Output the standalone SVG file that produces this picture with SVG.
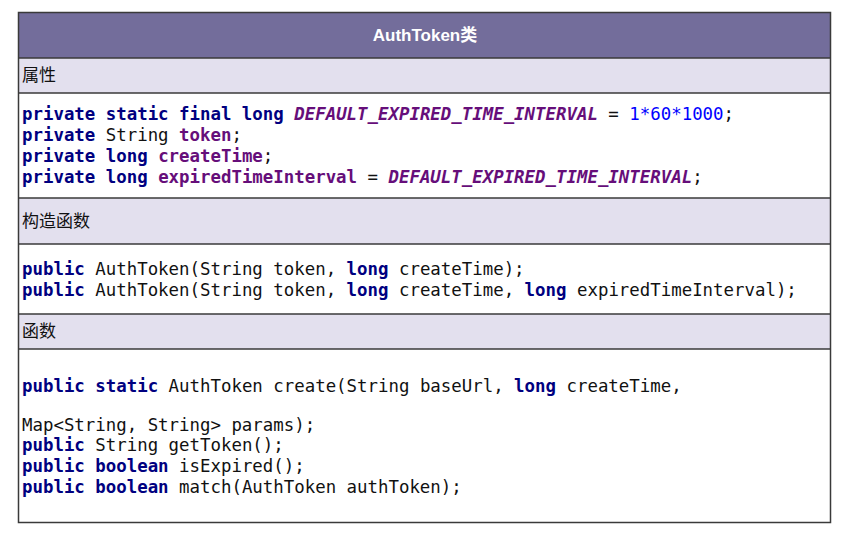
<svg xmlns="http://www.w3.org/2000/svg" width="849" height="538" viewBox="0 0 849 538">
<style>
.sec{fill:#e3e0ee;}
.line{stroke:#3a3a3a;stroke-width:1.5;fill:none;}
.hdr{font-family:"Liberation Sans","Noto Sans CJK SC",sans-serif;font-size:17px;font-weight:bold;fill:#ffffff;}
.lbl{font-family:"DejaVu Sans","Noto Sans CJK SC",sans-serif;font-size:17px;fill:#111;}
.code{font-family:"DejaVu Sans Mono",monospace;fill:#111;white-space:pre;}
.c1{font-size:17.4px;}
.c2{font-size:17.4px;}
.kw{fill:#000080;font-weight:bold;}
.fld{fill:#660e7a;font-weight:bold;}
.cst{fill:#660e7a;font-weight:bold;font-style:italic;}
.num{fill:#0000ff;}
</style>
<rect x="0" y="0" width="849" height="538" fill="#ffffff"/>
<g id="authtoken-class">
  <rect x="18.5" y="12.5" width="812" height="46" fill="#736d9b"/>
  <text class="hdr" x="425" y="41" text-anchor="middle">AuthToken类</text>
  <rect class="sec" x="18.5" y="58" width="812" height="35"/>
  <text class="lbl" x="22" y="81">属性</text>
  <rect x="18.5" y="93" width="812" height="105" fill="#ffffff"/>
  <text class="code c1" x="22" y="120"><tspan class="kw">private static final long</tspan> <tspan class="cst">DEFAULT_EXPIRED_TIME_INTERVAL</tspan> = <tspan class="num">1*60*1000</tspan>;</text>
  <text class="code c1" x="22" y="141"><tspan class="kw">private</tspan> String <tspan class="fld">token</tspan>;</text>
  <text class="code c1" x="22" y="162"><tspan class="kw">private long</tspan> <tspan class="fld">createTime</tspan>;</text>
  <text class="code c1" x="22" y="183"><tspan class="kw">private long</tspan> <tspan class="fld">expiredTimeInterval</tspan> = <tspan class="cst">DEFAULT_EXPIRED_TIME_INTERVAL</tspan>;</text>
  <rect class="sec" x="18.5" y="198" width="812" height="46"/>
  <text class="lbl" x="22" y="227">构造函数</text>
  <rect x="18.5" y="244" width="812" height="70" fill="#ffffff"/>
  <text class="code c2" x="22" y="275"><tspan class="kw">public</tspan> AuthToken(String token, <tspan class="kw">long</tspan> createTime);</text>
  <text class="code c2" x="22" y="296"><tspan class="kw">public</tspan> AuthToken(String token, <tspan class="kw">long</tspan> createTime, <tspan class="kw">long</tspan> expiredTimeInterval);</text>
  <rect class="sec" x="18.5" y="314" width="812" height="35"/>
  <text class="lbl" x="22" y="337">函数</text>
  <rect x="18.5" y="349" width="812" height="174" fill="#ffffff"/>
  <text class="code c2" x="22" y="392"><tspan class="kw">public static</tspan> AuthToken create(String baseUrl, <tspan class="kw">long</tspan> createTime,</text>
  <text class="code c2" x="22" y="431">Map&lt;String, String&gt; params);</text>
  <text class="code c2" x="22" y="451"><tspan class="kw">public</tspan> String getToken();</text>
  <text class="code c2" x="22" y="472"><tspan class="kw">public boolean</tspan> isExpired();</text>
  <text class="code c2" x="22" y="493"><tspan class="kw">public boolean</tspan> match(AuthToken authToken);</text>
  <rect class="line" x="18.5" y="12.5" width="812" height="510"/>
  <line class="line" x1="18.5" y1="58" x2="830.5" y2="58"/>
  <line class="line" x1="18.5" y1="93" x2="830.5" y2="93"/>
  <line class="line" x1="18.5" y1="198" x2="830.5" y2="198"/>
  <line class="line" x1="18.5" y1="244" x2="830.5" y2="244"/>
  <line class="line" x1="18.5" y1="314" x2="830.5" y2="314"/>
  <line class="line" x1="18.5" y1="349" x2="830.5" y2="349"/>
</g>
<g id="connectors"></g>
</svg>
